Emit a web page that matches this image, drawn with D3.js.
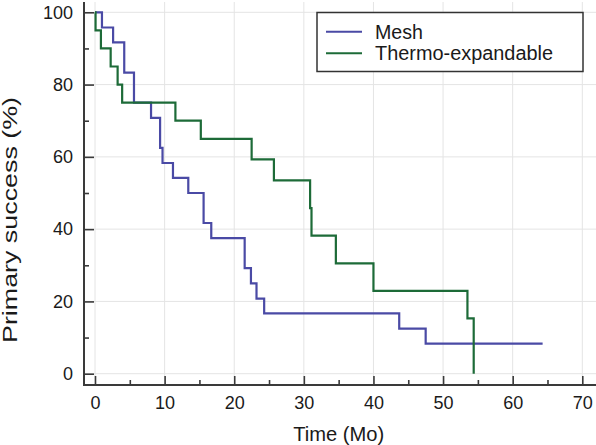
<!DOCTYPE html>
<html>
<head>
<meta charset="utf-8">
<script src="https://cdn.jsdelivr.net/npm/d3@7"></script>
<style>
  html, body { margin: 0; padding: 0; background: #fff; }
  svg { display: block; font-family: "Liberation Sans", Arial, sans-serif; }
</style>
</head>
<body>
<svg id="chart" width="596" height="445"></svg>
<script>
// ---- Data ----
const meshTimes = [0, 1.0, 2.6, 4.2, 5.6, 8.05, 9.35, 9.7, 11.2, 13.4, 15.6, 16.7, 21.5, 22.4, 23.2, 24.3, 43.7, 47.5];
const meshSurv  = [100, 95.8, 91.7, 83.3, 75.0, 70.8, 62.5, 58.3, 54.2, 50.0, 41.7, 37.5, 29.2, 25.0, 20.8, 16.7, 12.5, 8.3];
const meshEnd = 64.3;

const thermoTimes = [0, 0.08, 0.85, 2.25, 3.25, 3.9, 11.55, 15.2, 22.5, 25.7, 30.9, 31.1, 34.6, 40.0, 53.5, 54.4];
const thermoSurv  = [100, 95, 90, 85, 80, 75, 70, 65, 59.3, 53.5, 45.8, 38.2, 30.5, 22.9, 15.3, 0];
const thermoEnd = 54.4;

const seriesNames = ["Mesh", "Thermo-expandable"];
const seriesColors = ["#4a4aa5", "#1d6b38"];

const xMajor = [0, 10, 20, 30, 40, 50, 60, 70];
const xMinor = [5, 15, 25, 35, 45, 55, 65];
const yMajor = [0, 20, 40, 60, 80, 100];
const yMinor = [10, 30, 50, 70, 90];

const xTitle = "Time (Mo)";
const yTitle = "Primary success (%)";

// ---- Build ----
const svg = d3.select("#chart");
const x = d3.scaleLinear().domain([0, 70]).range([95, 582.3]);
const y = d3.scaleLinear().domain([0, 100]).range([373.7, 12.3]);

const axisColor = "#3a3a3a";
const xAxisY = 385, yAxisX = 84;

// grid
const grid = svg.append("g");
grid.selectAll("line.gx").data(xMajor).join("line")
  .attr("x1", d => x(d)).attr("x2", d => x(d))
  .attr("y1", 2).attr("y2", xAxisY)
  .attr("stroke", "#e4e4e4").attr("stroke-width", 1);
grid.selectAll("line.gy").data(yMajor).join("line")
  .attr("x1", yAxisX).attr("x2", 596)
  .attr("y1", d => y(d)).attr("y2", d => y(d))
  .attr("stroke", "#e4e4e4").attr("stroke-width", 1);

// series
function series(times, surv, end) {
  const pts = times.map((t, i) => [t, surv[i]]);
  const last = pts[pts.length - 1];
  if (end > last[0]) pts.push([end, last[1]]);
  return pts;
}
const lineGen = d3.line().x(d => x(d[0])).y(d => y(d[1])).curve(d3.curveStepAfter);
const data = [series(meshTimes, meshSurv, meshEnd), series(thermoTimes, thermoSurv, thermoEnd)];
svg.append("g").selectAll("path").data(data).join("path")
  .attr("d", lineGen)
  .attr("fill", "none")
  .attr("stroke", (d, i) => seriesColors[i])
  .attr("stroke-width", 2.2);

// axes
function styleAxis(g) {
  g.select(".domain").remove();
  g.selectAll(".tick line").attr("stroke", axisColor).attr("stroke-width", 1.6);
  g.selectAll(".tick text").attr("fill", "#1a1a1a").style("font-size", "18px")
    .style("font-family", '"Liberation Sans", Arial, sans-serif');
}
svg.append("g").attr("transform", `translate(0,${xAxisY})`)
  .call(d3.axisBottom(x).tickValues(xMajor).tickSize(-9).tickPadding(11).tickFormat(d3.format("d")))
  .call(styleAxis);
svg.append("g").attr("transform", `translate(0,${xAxisY})`)
  .call(d3.axisBottom(x).tickValues(xMinor).tickSize(-5).tickFormat(""))
  .call(styleAxis);
svg.append("g").attr("transform", `translate(${yAxisX},0)`)
  .call(d3.axisLeft(y).tickValues(yMajor).tickSize(-10).tickPadding(11).tickFormat(d3.format("d")))
  .call(styleAxis);
svg.append("g").attr("transform", `translate(${yAxisX},0)`)
  .call(d3.axisLeft(y).tickValues(yMinor).tickSize(-5).tickFormat(""))
  .call(styleAxis);

// axis lines
svg.append("line").attr("x1", yAxisX).attr("x2", yAxisX).attr("y1", 2).attr("y2", xAxisY + 1)
  .attr("stroke", axisColor).attr("stroke-width", 2);
svg.append("line").attr("x1", yAxisX - 1).attr("x2", 596).attr("y1", xAxisY).attr("y2", xAxisY)
  .attr("stroke", axisColor).attr("stroke-width", 2);

// titles
svg.append("text").attr("x", x(35)).attr("y", 441).attr("text-anchor", "middle")
  .attr("fill", "#1a1a1a").style("font-size", "19.5px")
  .attr("textLength", 91).attr("lengthAdjust", "spacingAndGlyphs").text(xTitle);
svg.append("text").attr("transform", `translate(17,220) rotate(-90)`).attr("text-anchor", "middle")
  .attr("fill", "#1a1a1a").style("font-size", "19.5px")
  .attr("textLength", 246).attr("lengthAdjust", "spacingAndGlyphs").text(yTitle);

// legend
const legendLens = [48, 178];
const lg = svg.append("g");
lg.append("rect").attr("x", 317).attr("y", 12.5).attr("width", 266).attr("height", 59)
  .attr("fill", "#fff").attr("stroke", "#333").attr("stroke-width", 1.5);
seriesNames.forEach((name, i) => {
  const ly = 31.7 + i * 21.6;
  lg.append("line").attr("x1", 326).attr("x2", 362).attr("y1", ly).attr("y2", ly)
    .attr("stroke", seriesColors[i]).attr("stroke-width", 2);
  lg.append("text").attr("x", 375).attr("y", ly).attr("dy", "0.36em")
    .attr("fill", "#1a1a1a").style("font-size", "19.5px")
    .attr("textLength", legendLens[i]).attr("lengthAdjust", "spacingAndGlyphs").text(name);
});
</script>
</body>
</html>
